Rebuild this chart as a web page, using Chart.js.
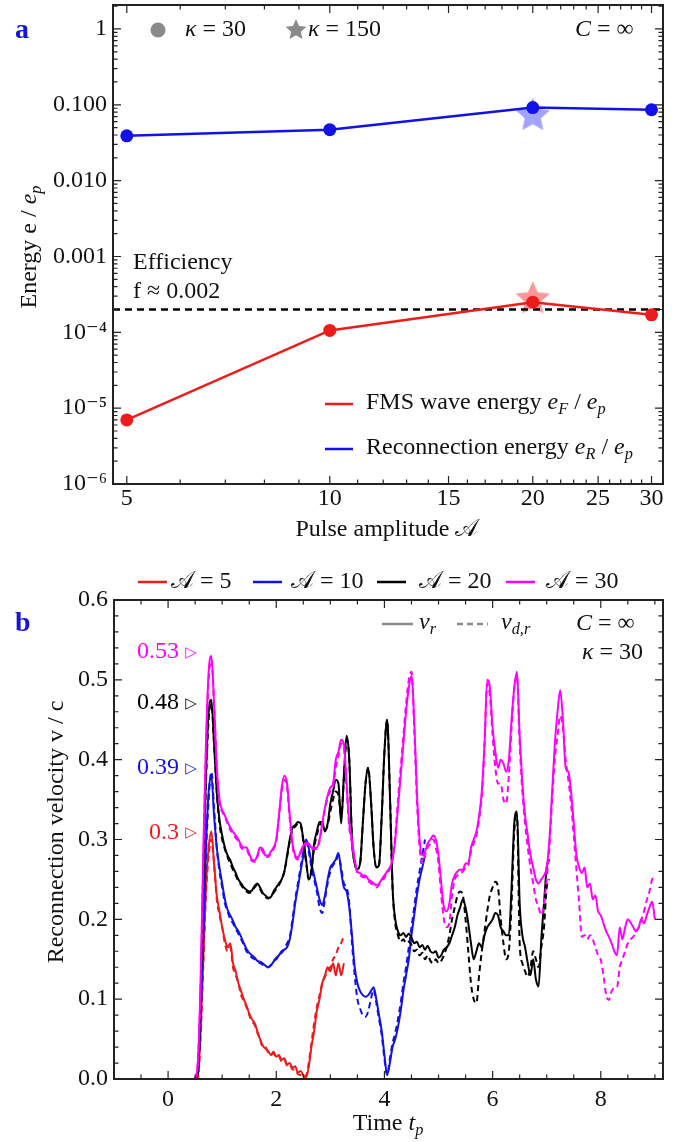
<!DOCTYPE html>
<html><head><meta charset="utf-8">
<script src="https://cdn.jsdelivr.net/npm/chart.js@4"></script>
<style>
html,body{margin:0;padding:0;background:#fff;width:692px;height:1142px;overflow:hidden}
canvas{position:absolute;left:0}
#c1{top:0;width:692px;height:560px}
#c2{top:560px;width:692px;height:582px}
</style></head>
<body>
<canvas id="c1" width="692" height="560"></canvas>
<canvas id="c2" width="692" height="582"></canvas>
<script>
// ---------- Panel a data ----------
const amplitudes = [5, 10, 20, 30];
const fmsEnergy = [7.0e-6, 1.06e-4, 2.5e-4, 1.7e-4];
const reconEnergy = [0.039, 0.047, 0.092, 0.086];
const kappa150Amp = [20];
const fmsEnergyK150 = [2.9e-4];
const reconEnergyK150 = [0.076];
const efficiency = 2e-4;
const ampTicks = [5,6,7,8,9,10,11,12,13,14,15,16,17,18,19,20,21,22,23,24,25,26,27,28,29,30];
const ampTickLabels = {5:'5',10:'10',15:'15',20:'20',25:'25',30:'30'};
const energyDecades = [1e-6,1e-5,1e-4,1e-3,1e-2,1e-1,1];
const energyDecadeLabels = ['10⁻⁶','10⁻⁵','10⁻⁴','0.001','0.010','0.100','1'];
const energyMinorMult = [2,3,4,5,6,7,8,9];

// ---------- Panel b data (time grid: tStart + i*tStep) ----------
const tStart = 0.5, tStep = 0.05;
const vr5 = [0,0,0.06,0.15,0.24,0.29,0.31,0.27,0.23,0.21,
 0.19,0.175,0.165,0.17,0.145,0.135,0.12,0.11,0.10,0.092,
 0.082,0.075,0.07,0.06,0.05,0.042,0.038,0.035,0.03,0.034,
 0.028,0.03,0.024,0.026,0.018,0.02,0.014,0.016,0.008,0.01,
 0.005,0.002,0.015,0.04,0.06,0.085,0.10,0.12,0.13,0.14,
 0.135,0.145,0.13,0.145,0.13,0.145];
const vd5 = [0,0,0.05,0.14,0.23,0.28,0.30,0.27,0.225,0.205,
 0.19,0.17,0.16,0.165,0.14,0.13,0.12,0.105,0.098,0.09,
 0.08,0.072,0.068,0.058,0.05,0.04,0.04,0.033,0.03,0.032,
 0.027,0.028,0.022,0.024,0.017,0.018,0.012,0.012,0.006,0.005,
 0.002,0.004,0.02,0.045,0.07,0.09,0.105,0.12,0.128,0.135,
 0.14,0.15,0.155,0.165,0.17,0.18];
const vr10 = [0,0.01,0.08,0.18,0.29,0.36,0.38,0.33,0.29,0.265,
 0.245,0.225,0.212,0.205,0.198,0.19,0.185,0.178,0.17,0.163,
 0.158,0.155,0.152,0.148,0.147,0.145,0.142,0.14,0.142,0.147,
 0.152,0.155,0.16,0.162,0.165,0.175,0.195,0.22,0.24,0.26,
 0.28,0.30,0.29,0.27,0.255,0.24,0.225,0.218,0.23,0.25,
 0.265,0.27,0.275,0.283,0.26,0.24,0.235,0.215,0.18,0.14,
 0.12,0.11,0.105,0.103,0.105,0.11,0.115,0.10,0.08,0.06,
 0.03,0.005,0.02,0.04,0.05,0.065,0.085,0.11,0.13,0.15,
 0.18,0.205,0.23,0.25,0.265,0.28];
const vd10 = [0,0.01,0.07,0.17,0.28,0.35,0.385,0.34,0.29,0.26,
 0.24,0.22,0.21,0.2,0.195,0.188,0.182,0.175,0.168,0.16,
 0.156,0.152,0.15,0.147,0.145,0.143,0.14,0.14,0.143,0.148,
 0.15,0.155,0.158,0.163,0.17,0.178,0.2,0.225,0.245,0.265,
 0.285,0.30,0.285,0.265,0.25,0.235,0.215,0.208,0.225,0.245,
 0.26,0.268,0.272,0.28,0.265,0.245,0.24,0.22,0.17,0.13,
 0.1,0.088,0.08,0.078,0.085,0.1,0.112,0.095,0.075,0.055,
 0.025,0.005,0.025,0.045,0.058,0.075,0.095,0.12,0.14,0.165,
 0.19,0.215,0.24,0.26,0.28,0.30];
const vr20 = [0,0.01,0.10,0.25,0.38,0.46,0.475,0.42,0.36,0.325,
 0.305,0.29,0.28,0.274,0.265,0.258,0.25,0.245,0.24,0.237,
 0.235,0.236,0.242,0.245,0.24,0.233,0.23,0.227,0.228,0.235,
 0.24,0.245,0.25,0.26,0.28,0.30,0.315,0.318,0.322,0.32,
 0.30,0.275,0.25,0.26,0.295,0.31,0.322,0.322,0.31,0.32,
 0.345,0.36,0.375,0.37,0.32,0.38,0.43,0.40,0.30,0.27,
 0.263,0.27,0.32,0.37,0.39,0.35,0.29,0.265,0.268,0.33,
 0.41,0.45,0.36,0.24,0.20,0.185,0.18,0.183,0.178,0.182,
 0.177,0.17,0.172,0.165,0.168,0.162,0.167,0.16,0.158,0.16,
 0.152,0.155,0.162,0.165,0.17,0.18,0.19,0.205,0.215,0.225,
 0.215,0.195,0.17,0.15,0.16,0.17,0.165,0.18,0.19,0.195,
 0.20,0.208,0.205,0.19,0.185,0.18,0.18,0.24,0.32,0.335,
 0.22,0.18,0.165,0.145,0.13,0.15,0.125,0.116,0.175,0.22,
 0.265,0.275];
const vd20 = [0,0.01,0.09,0.24,0.37,0.45,0.47,0.42,0.36,0.32,
 0.3,0.288,0.278,0.27,0.262,0.255,0.248,0.243,0.238,0.235,
 0.233,0.235,0.24,0.243,0.238,0.232,0.228,0.226,0.228,0.233,
 0.238,0.243,0.25,0.26,0.278,0.298,0.312,0.316,0.32,0.318,
 0.298,0.272,0.25,0.262,0.29,0.305,0.318,0.32,0.312,0.318,
 0.335,0.35,0.36,0.355,0.33,0.375,0.425,0.40,0.30,0.27,
 0.263,0.27,0.32,0.37,0.39,0.35,0.29,0.265,0.268,0.33,
 0.41,0.45,0.36,0.24,0.195,0.18,0.172,0.175,0.17,0.172,
 0.168,0.16,0.162,0.155,0.158,0.15,0.155,0.148,0.145,0.15,
 0.145,0.148,0.155,0.165,0.18,0.2,0.215,0.23,0.235,0.23,
 0.2,0.16,0.12,0.10,0.095,0.13,0.16,0.185,0.21,0.23,
 0.24,0.247,0.24,0.2,0.17,0.15,0.16,0.22,0.31,0.33,
 0.17,0.145,0.135,0.128,0.14,0.16,0.15,0.14,0.165,0.19,
 0.24,0.25];
const vr30 = [0,0.02,0.12,0.28,0.42,0.51,0.53,0.47,0.39,0.35,
 0.337,0.33,0.322,0.315,0.31,0.305,0.30,0.293,0.29,0.29,
 0.282,0.275,0.274,0.28,0.29,0.288,0.28,0.28,0.285,0.29,
 0.30,0.33,0.365,0.38,0.37,0.33,0.295,0.28,0.277,0.285,
 0.292,0.296,0.295,0.29,0.29,0.29,0.30,0.32,0.34,0.355,
 0.365,0.37,0.40,0.41,0.425,0.42,0.37,0.32,0.30,0.275,
 0.26,0.258,0.255,0.255,0.25,0.248,0.245,0.243,0.245,0.25,
 0.255,0.26,0.265,0.275,0.30,0.34,0.38,0.42,0.46,0.49,
 0.505,0.45,0.36,0.30,0.28,0.285,0.295,0.30,0.305,0.30,
 0.28,0.245,0.215,0.21,0.22,0.245,0.255,0.26,0.262,0.262,
 0.27,0.27,0.29,0.30,0.31,0.33,0.36,0.42,0.50,0.49,
 0.44,0.41,0.39,0.40,0.395,0.385,0.40,0.45,0.49,0.51,
 0.43,0.37,0.33,0.305,0.28,0.265,0.25,0.245,0.25,0.255,
 0.265,0.30,0.36,0.42,0.46,0.487,0.45,0.39,0.385,0.36,
 0.32,0.28,0.265,0.258,0.265,0.24,0.245,0.225,0.23,0.21,
 0.205,0.195,0.185,0.178,0.17,0.16,0.155,0.19,0.175,0.19,
 0.20,0.196,0.19,0.185,0.19,0.2,0.195,0.205,0.215,0.222,
 0.2];
const vd30 = [0,0.02,0.11,0.27,0.41,0.50,0.525,0.47,0.39,0.345,
 0.335,0.328,0.32,0.312,0.308,0.302,0.298,0.29,0.287,0.287,
 0.28,0.273,0.272,0.278,0.288,0.285,0.278,0.278,0.283,0.288,
 0.298,0.328,0.36,0.375,0.365,0.325,0.292,0.278,0.275,0.283,
 0.29,0.294,0.293,0.288,0.288,0.288,0.298,0.318,0.338,0.352,
 0.36,0.365,0.39,0.405,0.42,0.415,0.365,0.315,0.295,0.272,
 0.258,0.255,0.253,0.252,0.248,0.245,0.243,0.24,0.243,0.248,
 0.252,0.258,0.263,0.275,0.305,0.35,0.39,0.43,0.47,0.50,
 0.51,0.44,0.35,0.29,0.27,0.28,0.29,0.295,0.30,0.29,
 0.27,0.23,0.2,0.19,0.195,0.23,0.25,0.255,0.258,0.26,
 0.265,0.268,0.285,0.295,0.305,0.325,0.355,0.415,0.495,0.48,
 0.43,0.39,0.37,0.37,0.35,0.345,0.38,0.44,0.49,0.505,
 0.42,0.36,0.32,0.29,0.265,0.245,0.225,0.215,0.205,0.22,
 0.25,0.29,0.35,0.40,0.43,0.455,0.44,0.40,0.375,0.345,
 0.305,0.262,0.22,0.178,0.18,0.175,0.18,0.175,0.165,0.155,
 0.149,0.13,0.105,0.099,0.11,0.114,0.115,0.14,0.15,0.16,
 0.17,0.175,0.178,0.185,0.19,0.2,0.21,0.224,0.235,0.25,
 0.254];
const peakValues = [0.53, 0.48, 0.39, 0.3];
const peakLabels = ['0.53', '0.48', '0.39', '0.3'];
const timeTicks = [-1,-0.5,0,0.5,1,1.5,2,2.5,3,3.5,4,4.5,5,5.5,6,6.5,7,7.5,8,8.5,9];
const timeTickLabels = {0:'0',2:'2',4:'4',6:'6',8:'8'};
const velTicks = [0,0.02,0.04,0.06,0.08,0.1,0.12,0.14,0.16,0.18,0.2,0.22,0.24,0.26,0.28,0.3,
  0.32,0.34,0.36,0.38,0.4,0.42,0.44,0.46,0.48,0.5,0.52,0.54,0.56,0.58,0.6];
const velTickLabels = {0:'0.0',0.1:'0.1',0.2:'0.2',0.3:'0.3',0.4:'0.4',0.5:'0.5',0.6:'0.6'};
const ampLegend = ['𝒜 = 5', '𝒜 = 10', '𝒜 = 20', '𝒜 = 30'];

// ---------- styles ----------
const FONT = '"Liberation Serif", "DejaVu Serif", serif';
const RED = '#ee1b1b', BLUE = '#1212e8', BLACK = '#000000', MAG = '#ff00ff', GRAY = '#8a8a8a';
const seriesColors = [RED, BLUE, BLACK, MAG];
const peakColors = [MAG, BLACK, BLUE, RED];
const TXT = 24;

function rich(ctx, segs, x, y, align, size, color) {
  size = size || TXT;
  const parts = segs.map(([t, s]) => {
    const sub = s.indexOf('s') === 0;
    const fs = sub ? size * 0.68 : size;
    const font = (s.indexOf('i') >= 0 ? 'italic ' : '') + (s.indexOf('b') >= 0 ? 'bold ' : '') + fs + 'px ' + FONT;
    ctx.font = font;
    return { t, font, w: ctx.measureText(t).width, dy: sub ? size * 0.3 : 0 };
  });
  const total = parts.reduce((a, p) => a + p.w, 0);
  let cx = align === 'center' ? x - total / 2 : align === 'right' ? x - total : x;
  ctx.fillStyle = color || '#111';
  ctx.textAlign = 'left';
  ctx.textBaseline = 'middle';
  parts.forEach(p => { ctx.font = p.font; ctx.fillText(p.t, cx, y + p.dy); cx += p.w; });
}
function seg(ctx, x1, y1, x2, y2, color, w, dash) {
  ctx.save(); ctx.strokeStyle = color; ctx.lineWidth = w; ctx.setLineDash(dash || []);
  ctx.beginPath(); ctx.moveTo(x1, y1); ctx.lineTo(x2, y2); ctx.stroke(); ctx.restore();
}
function makeStar(color, R) {
  const c = document.createElement('canvas');
  c.width = c.height = Math.ceil(2 * R + 2);
  const g = c.getContext('2d');
  g.fillStyle = color; g.beginPath();
  for (let i = 0; i < 10; i++) {
    const r = i % 2 ? R * 0.47 : R;
    const a = -Math.PI / 2 + i * Math.PI / 5;
    g.lineTo(c.width / 2 + r * Math.cos(a), c.height / 2 + r * Math.sin(a) + R * 0.1);
  }
  g.closePath(); g.fill();
  return c;
}
function drawFrame(chart, xMajor, yMajor) {
  const { ctx, chartArea: a, scales: { x, y } } = chart;
  ctx.save();
  ctx.strokeStyle = '#222'; ctx.lineWidth = 1.2;
  x.ticks.forEach(t => {
    const px = x.getPixelForValue(t.value);
    const L = xMajor(t.value) ? 8 : 4.5;
    ctx.beginPath(); ctx.moveTo(px, a.bottom); ctx.lineTo(px, a.bottom - L);
    ctx.moveTo(px, a.top); ctx.lineTo(px, a.top + L); ctx.stroke();
  });
  y.ticks.forEach(t => {
    const py = y.getPixelForValue(t.value);
    const L = yMajor(t.value) ? 8 : 4.5;
    ctx.beginPath(); ctx.moveTo(a.left, py); ctx.lineTo(a.left + L, py);
    ctx.moveTo(a.right, py); ctx.lineTo(a.right - L, py); ctx.stroke();
  });
  ctx.lineWidth = 2; ctx.strokeStyle = '#222';
  ctx.strokeRect(a.left, a.top, a.right - a.left, a.bottom - a.top);
  ctx.restore();
}

const energyTicks = [];
energyDecades.forEach(d => { energyTicks.push(d); if (d < 1) energyMinorMult.forEach(m => energyTicks.push(+(d * m).toPrecision(3))); });
energyTicks.push(2);
const energyLabelOf = v => { const i = energyDecades.indexOf(v); return i >= 0 ? energyDecadeLabels[i] : ''; };

const starRed = makeStar('rgba(240,70,70,0.55)', 18);
const starBlue = makeStar('rgba(70,70,255,0.5)', 18);
const starGray = makeStar(GRAY, 11);

const A_XMIN = 4.77, A_XMAX = 31.2;

const panelA = {
  id: 'panelA',
  afterDraw(chart) {
    const ctx = chart.ctx;
    drawFrame(chart, v => ampTickLabels[v] !== undefined, v => energyDecades.indexOf(v) >= 0);
    ctx.save();
    rich(ctx, [['a', 'b']], 15, 31, 'left', 28, '#1515d8');
    ctx.fillStyle = GRAY; ctx.beginPath(); ctx.arc(158, 30, 7.5, 0, Math.PI * 2); ctx.fill();
    rich(ctx, [['κ', 'i'], [' = 30', 'n']], 185, 30, 'left');
    ctx.drawImage(starGray, 296 - starGray.width / 2, 29 - starGray.height / 2);
    rich(ctx, [['κ', 'i'], [' = 150', 'n']], 308, 30, 'left');
    rich(ctx, [['C', 'i'], [' = ∞', 'n']], 575, 30, 'left');
    rich(ctx, [['Efficiency', 'n']], 133, 263, 'left');
    rich(ctx, [['f ≈ 0.002', 'n']], 133, 292, 'left');
    seg(ctx, 325, 404, 353, 404, RED, 2.5);
    rich(ctx, [['FMS wave energy ', 'n'], ['e', 'i'], ['F', 'si'], [' / ', 'n'], ['e', 'i'], ['p', 'si']], 366, 403, 'left');
    seg(ctx, 325, 449, 353, 449, BLUE, 2.5);
    rich(ctx, [['Reconnection energy ', 'n'], ['e', 'i'], ['R', 'si'], [' / ', 'n'], ['e', 'i'], ['p', 'si']], 366, 448, 'left');
    rich(ctx, [['Pulse amplitude ', 'n'], ['𝒜', 'n']], 387, 530, 'center');
    ctx.translate(30, 247); ctx.rotate(-Math.PI / 2);
    rich(ctx, [['Energy e / ', 'n'], ['e', 'i'], ['p', 'si']], 0, 0, 'center');
    ctx.restore();
  }
};

new Chart(document.getElementById('c1'), {
  type: 'line',
  data: {
    datasets: [
      { data: amplitudes.map((a, i) => ({ x: a, y: fmsEnergy[i] })), borderColor: RED, backgroundColor: RED,
        borderWidth: 2.5, pointRadius: 6.5, pointBorderWidth: 0, pointBackgroundColor: RED },
      { data: amplitudes.map((a, i) => ({ x: a, y: reconEnergy[i] })), borderColor: BLUE, backgroundColor: BLUE,
        borderWidth: 2.5, pointRadius: 6.5, pointBorderWidth: 0, pointBackgroundColor: BLUE },
      { data: [{ x: A_XMIN, y: efficiency }, { x: A_XMAX, y: efficiency }], borderColor: '#000',
        borderDash: [7, 5], borderWidth: 2.5, pointRadius: 0 },
      { data: kappa150Amp.map((a, i) => ({ x: a, y: fmsEnergyK150[i] })), showLine: false, pointStyle: starRed, pointRadius: 18 },
      { data: kappa150Amp.map((a, i) => ({ x: a, y: reconEnergyK150[i] })), showLine: false, pointStyle: starBlue, pointRadius: 18 }
    ]
  },
  options: {
    responsive: false, animation: false, events: [], devicePixelRatio: 1,
    layout: { autoPadding: false, padding: { left: 0, right: 29, top: 5, bottom: 0 } },
    plugins: { legend: { display: false }, tooltip: { enabled: false } },
    scales: {
      x: {
        type: 'logarithmic', min: A_XMIN, max: A_XMAX,
        afterBuildTicks: s => { s.ticks = ampTicks.map(v => ({ value: v })); },
        afterFit: s => { s.height = 76; s.paddingLeft = 0; s.paddingRight = 0; },
        grid: { display: false, drawTicks: false }, border: { display: false },
        ticks: { autoSkip: false, maxRotation: 0, padding: 0, color: '#111', font: { family: FONT, size: TXT },
          callback: v => ampTickLabels[v] !== undefined ? ampTickLabels[v] : '' }
      },
      y: {
        type: 'logarithmic', min: 1e-6, max: 2.07,
        afterBuildTicks: s => { s.ticks = energyTicks.map(v => ({ value: v })); },
        afterFit: s => { s.width = 113; s.paddingTop = 0; s.paddingBottom = 0; },
        grid: { display: false, drawTicks: false }, border: { display: false },
        ticks: { autoSkip: false, padding: 6, color: '#111', font: { family: FONT, size: TXT },
          callback: v => energyLabelOf(v) }
      }
    }
  },
  plugins: [panelA]
});

// ---------- Panel b ----------
const toXY = vals => vals.map((v, i) => ({ x: +(tStart + i * tStep).toFixed(2), y: v }));
const solidSets = [vr5, vr10, vr20, vr30];
const dashSets = [vd5, vd10, vd20, vd30];
const bDatasets = [];
for (let k = 3; k >= 0; k--) {
  bDatasets.push({ data: toXY(dashSets[k]), borderColor: seriesColors[k], borderWidth: 2, borderDash: [6, 4],
    pointRadius: 0, cubicInterpolationMode: 'monotone' });
  bDatasets.push({ data: toXY(solidSets[k]), borderColor: seriesColors[k], borderWidth: 2,
    pointRadius: 0, cubicInterpolationMode: 'monotone' });
}
const OFF = 560;
const labelDy = [-4, 7, 0, -7];
const panelB = {
  id: 'panelB',
  afterDraw(chart) {
    const ctx = chart.ctx;
    drawFrame(chart, v => timeTickLabels[v] !== undefined, v => velTickLabels[v] !== undefined);
    const yS = chart.scales.y;
    ctx.save();
    peakValues.forEach((v, i) => {
      const py = yS.getPixelForValue(v) + labelDy[i];
      rich(ctx, [[peakLabels[i], 'n']], 179, py, 'right', TXT, peakColors[i]);
      ctx.font = '15px "DejaVu Sans"'; ctx.fillStyle = peakColors[i]; ctx.textAlign = 'center'; ctx.textBaseline = 'middle';
      ctx.fillText('▷', 191, py + 1);
    });
    ctx.translate(0, -OFF);
    rich(ctx, [['b', 'b']], 15, 624, 'left', 28, '#1515d8');
    const lx = [138, 253, 377, 506], tx = [171, 291, 419, 546];
    ampLegend.forEach((s, i) => {
      seg(ctx, lx[i], 582, lx[i] + 29, 582, seriesColors[i], 2.5);
      rich(ctx, [[s, 'n']], tx[i], 582, 'left');
    });
    seg(ctx, 382, 624, 413, 624, GRAY, 2.5);
    rich(ctx, [['v', 'i'], ['r', 'si']], 419, 623, 'left');
    seg(ctx, 457, 624, 488, 624, GRAY, 2.5, [6, 4]);
    rich(ctx, [['v', 'i'], ['d,r', 'si']], 501, 623, 'left');
    rich(ctx, [['C', 'i'], [' = ∞', 'n']], 576, 624, 'left');
    rich(ctx, [['κ', 'i'], [' = 30', 'n']], 582, 653, 'left');
    rich(ctx, [['Time ', 'n'], ['t', 'i'], ['p', 'si']], 388, 1124, 'center');
    ctx.translate(57, 832); ctx.rotate(-Math.PI / 2);
    rich(ctx, [['Reconnection velocity v / c', 'n']], 0, 0, 'center');
    ctx.restore();
  }
};

new Chart(document.getElementById('c2'), {
  type: 'line',
  data: { datasets: bDatasets },
  options: {
    responsive: false, animation: false, events: [], devicePixelRatio: 1,
    layout: { autoPadding: false, padding: { left: 0, right: 29, top: 40, bottom: 0 } },
    plugins: { legend: { display: false }, tooltip: { enabled: false } },
    scales: {
      x: {
        type: 'linear', min: -1, max: 9.15,
        afterBuildTicks: s => { s.ticks = timeTicks.map(v => ({ value: v })); },
        afterFit: s => { s.height = 63; s.paddingLeft = 0; s.paddingRight = 0; },
        grid: { display: false, drawTicks: false }, border: { display: false },
        ticks: { autoSkip: false, maxRotation: 0, padding: 6, color: '#111', font: { family: FONT, size: TXT },
          callback: v => timeTickLabels[v] !== undefined ? timeTickLabels[v] : '' }
      },
      y: {
        type: 'linear', min: 0, max: 0.6,
        afterBuildTicks: s => { s.ticks = velTicks.map(v => ({ value: v })); },
        afterFit: s => { s.width = 114; s.paddingTop = 0; s.paddingBottom = 0; },
        grid: { display: false, drawTicks: false }, border: { display: false },
        ticks: { autoSkip: false, padding: 6, color: '#111', font: { family: FONT, size: TXT },
          callback: v => velTickLabels[v] !== undefined ? velTickLabels[v] : '' }
      }
    }
  },
  plugins: [panelB]
});
</script>
</body></html>
